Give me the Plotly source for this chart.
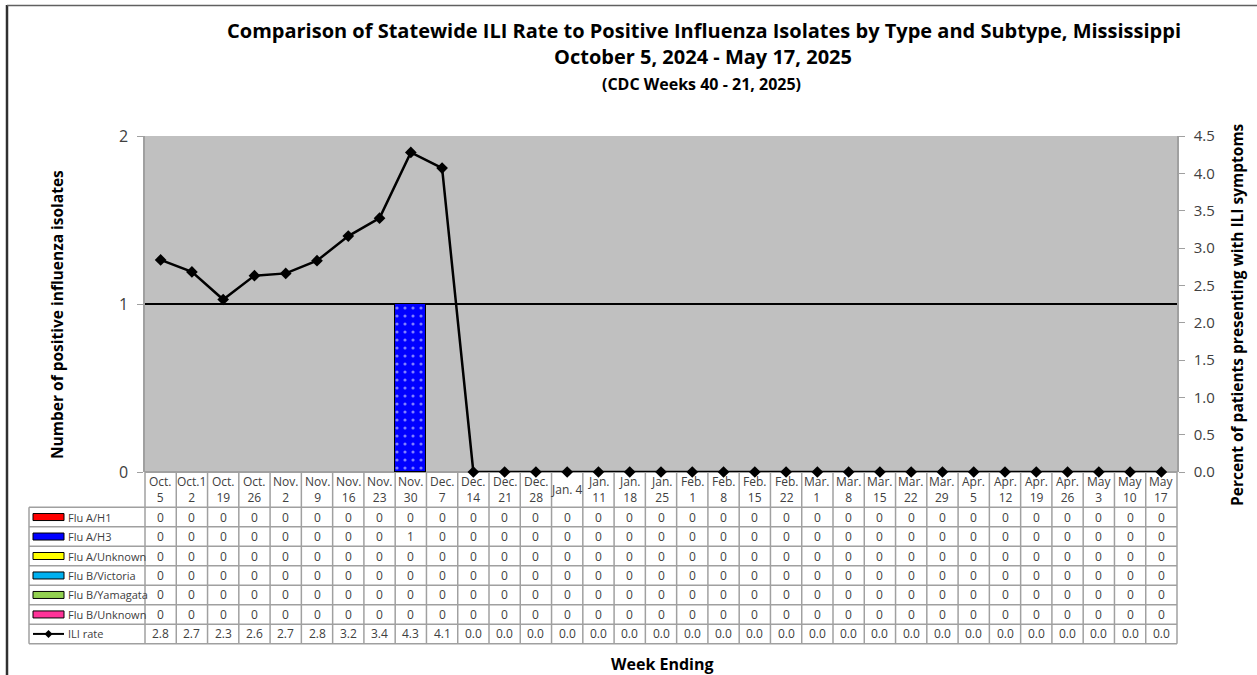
import plotly.graph_objects as go

# ---------------- data ----------------
weeks = ["Oct.<br>5", "Oct.1<br>2", "Oct.<br>19", "Oct.<br>26", "Nov.<br>2", "Nov.<br>9",
         "Nov.<br>16", "Nov.<br>23", "Nov.<br>30", "Dec.<br>7", "Dec.<br>14", "Dec.<br>21",
         "Dec.<br>28", "Jan. 4", "Jan.<br>11", "Jan.<br>18", "Jan.<br>25", "Feb.<br>1",
         "Feb.<br>8", "Feb.<br>15", "Feb.<br>22", "Mar.<br>1", "Mar.<br>8", "Mar.<br>15",
         "Mar.<br>22", "Mar.<br>29", "Apr.<br>5", "Apr.<br>12", "Apr.<br>19", "Apr.<br>26",
         "May<br>3", "May<br>10", "May<br>17"]

flu_a_h1 = [0, 0, 0, 0, 0, 0, 0, 0, 0, 0, 0, 0, 0, 0, 0, 0, 0, 0, 0, 0, 0, 0, 0, 0, 0, 0, 0, 0, 0, 0, 0, 0, 0]
flu_a_h3 = [0, 0, 0, 0, 0, 0, 0, 0, 1, 0, 0, 0, 0, 0, 0, 0, 0, 0, 0, 0, 0, 0, 0, 0, 0, 0, 0, 0, 0, 0, 0, 0, 0]
flu_a_unknown = [0, 0, 0, 0, 0, 0, 0, 0, 0, 0, 0, 0, 0, 0, 0, 0, 0, 0, 0, 0, 0, 0, 0, 0, 0, 0, 0, 0, 0, 0, 0, 0, 0]
flu_b_victoria = [0, 0, 0, 0, 0, 0, 0, 0, 0, 0, 0, 0, 0, 0, 0, 0, 0, 0, 0, 0, 0, 0, 0, 0, 0, 0, 0, 0, 0, 0, 0, 0, 0]
flu_b_yamagata = [0, 0, 0, 0, 0, 0, 0, 0, 0, 0, 0, 0, 0, 0, 0, 0, 0, 0, 0, 0, 0, 0, 0, 0, 0, 0, 0, 0, 0, 0, 0, 0, 0]
flu_b_unknown = [0, 0, 0, 0, 0, 0, 0, 0, 0, 0, 0, 0, 0, 0, 0, 0, 0, 0, 0, 0, 0, 0, 0, 0, 0, 0, 0, 0, 0, 0, 0, 0, 0]
ili_rate = [2.84, 2.68, 2.31, 2.63, 2.66, 2.83, 3.16, 3.40, 4.28, 4.07, 0.0, 0.0, 0.0, 0.0, 0.0,
            0.0, 0.0, 0.0, 0.0, 0.0, 0.0, 0.0, 0.0, 0.0, 0.0, 0.0, 0.0, 0.0, 0.0, 0.0, 0.0, 0.0, 0.0]

series_names = ["Flu A/H1", "Flu A/H3", "Flu A/Unknown", "Flu B/Victoria", "Flu B/Yamagata", "Flu B/Unknown"]
series_values = [flu_a_h1, flu_a_h3, flu_a_unknown, flu_b_victoria, flu_b_yamagata, flu_b_unknown]
series_colors = ["#ff0000", "#0000ff", "#ffff00", "#00b0f0", "#92d050", "#ff3399"]

# ---------------- layout geometry (pixels) ----------------
W, H = 1257, 675
L, R, T, B = 145, 1177, 136, 472
FONT = "Open Sans"
TXT = "#404040"
GRID = "#a0a0a0"


def px(x):
    return (x - L) / (R - L)


def py(y):
    return (B - y) / (B - T)


n = len(weeks)
xs = list(range(n))

fig = go.Figure()

for name, vals, col in zip(series_names, series_values, series_colors):
    fig.add_trace(go.Bar(
        x=xs, y=vals, name=name, showlegend=False,
        marker=dict(color=col,
                    line=dict(color="black", width=[1 if v > 0 else 0 for v in vals]),
                    pattern=dict(shape=".", fillmode="overlay", fgcolor="white", size=8, solidity=0.12)),
        hoverinfo="skip",
    ))

fig.add_trace(go.Scatter(
    x=xs, y=ili_rate, name="ILI rate", yaxis="y2", mode="lines+markers", showlegend=False,
    line=dict(color="black", width=2.5),
    marker=dict(symbol="diamond", size=9, color="black"),
    cliponaxis=False,
))

shapes = []
annotations = []

# ---- data table below the plot ----
header_bottom = 507.3
row_h = 19.48
legend_left = 29
n_rows = len(series_names) + 1
table_bottom = header_bottom + n_rows * row_h
line_style = dict(color=GRID, width=1.5)

for k in range(n_rows + 1):
    yy = py(header_bottom + k * row_h)
    shapes.append(dict(type="line", xref="paper", yref="paper", x0=px(legend_left), x1=1,
                       y0=yy, y1=yy, line=line_style, layer="above"))
shapes.append(dict(type="line", xref="paper", yref="paper", x0=0, x1=1, y0=0, y1=0,
                   line=line_style, layer="below"))
for i in range(n + 1):
    xx = i / n
    shapes.append(dict(type="line", xref="paper", yref="paper", x0=xx, x1=xx,
                       y0=0, y1=py(table_bottom), line=line_style))
shapes.append(dict(type="line", xref="paper", yref="paper", x0=px(legend_left), x1=px(legend_left),
                   y0=py(header_bottom), y1=py(table_bottom), line=line_style))

for i, w in enumerate(weeks):
    annotations.append(dict(x=i, xref="x", y=py((B + header_bottom) / 2), yref="paper",
                            text=w, showarrow=False, font=dict(family=FONT, size=12, color=TXT),
                            xanchor="center", yanchor="middle"))

row_labels = series_names + ["ILI rate"]
row_values = series_values + [ili_rate]
for k, (lab, vals) in enumerate(zip(row_labels, row_values)):
    yc = header_bottom + (k + 0.5) * row_h
    for i, v in enumerate(vals):
        txt = f"{v:.1f}" if lab == "ILI rate" else f"{v:d}"
        annotations.append(dict(x=i, xref="x", y=py(yc), yref="paper", text=txt, showarrow=False,
                                font=dict(family=FONT, size=12, color=TXT),
                                xanchor="center", yanchor="middle"))
    annotations.append(dict(x=px(66), xref="paper", y=py(yc), yref="paper", text=lab,
                            showarrow=False, font=dict(family=FONT, size=11, color=TXT),
                            xanchor="left", yanchor="middle"))
    if lab == "ILI rate":
        shapes.append(dict(type="line", xref="paper", yref="paper", x0=px(33), x1=px(64),
                           y0=py(yc), y1=py(yc), line=dict(color="black", width=2)))
        cx, cy, d = 48.5, yc, 4
        path = (f"M{px(cx - d)},{py(cy)} L{px(cx)},{py(cy - d)} "
                f"L{px(cx + d)},{py(cy)} L{px(cx)},{py(cy + d)} Z")
        shapes.append(dict(type="path", xref="paper", yref="paper", path=path,
                           fillcolor="black", line=dict(color="black", width=0)))
    else:
        col = series_colors[k]
        shapes.append(dict(type="rect", xref="paper", yref="paper", x0=px(33), x1=px(64),
                           y0=py(yc + 3.5), y1=py(yc - 3.5), fillcolor=col,
                           line=dict(color="black", width=1)))

# ---- frame ----
shapes.append(dict(type="line", xref="paper", yref="paper", x0=px(7), x1=px(7), y0=py(5), y1=py(H + 5),
                   line=dict(color="#303030", width=2.5)))
shapes.append(dict(type="line", xref="paper", yref="paper", x0=px(7), x1=px(W + 5), y0=py(5.5), y1=py(5.5),
                   line=dict(color="#606060", width=1.5)))

# ---- titles ----
annotations += [
    dict(x=px(704), y=py(30), xref="paper", yref="paper", showarrow=False,
         text="<b>Comparison of Statewide ILI Rate to Positive Influenza Isolates by Type and Subtype, Mississippi</b>",
         font=dict(family=FONT, size=20, color="black"), xanchor="center", yanchor="middle"),
    dict(x=px(703), y=py(57), xref="paper", yref="paper", showarrow=False,
         text="<b>October 5, 2024 - May 17, 2025</b>",
         font=dict(family=FONT, size=20, color="black"), xanchor="center", yanchor="middle"),
    dict(x=px(701), y=py(84), xref="paper", yref="paper", showarrow=False,
         text="<b>(CDC Weeks 40 - 21, 2025)</b>",
         font=dict(family=FONT, size=16, color="black"), xanchor="center", yanchor="middle"),
    dict(x=px(662), y=py(664), xref="paper", yref="paper", showarrow=False,
         text="<b>Week Ending</b>", font=dict(family=FONT, size=16, color="black"),
         xanchor="center", yanchor="middle"),
    dict(x=px(57), y=py(315), xref="paper", yref="paper", showarrow=False, textangle=-90,
         text="<b>Number of positive influenza isolates</b>", font=dict(family=FONT, size=15.5, color="black"),
         xanchor="center", yanchor="middle"),
    dict(x=px(1237), y=py(315), xref="paper", yref="paper", showarrow=False, textangle=-90,
         text="<b>Percent of patients presenting with ILI symptoms</b>",
         font=dict(family=FONT, size=15.5, color="black"), xanchor="center", yanchor="middle"),
]

fig.update_layout(
    width=W, height=H,
    margin=dict(l=L, r=W - R, t=T, b=H - B, autoexpand=False),
    paper_bgcolor="white", plot_bgcolor="#c0c0c0",
    barmode="stack", bargap=0,
    showlegend=False,
    font=dict(family=FONT, color=TXT),
    xaxis=dict(range=[-0.5, n - 0.5], showticklabels=False, ticks="", showgrid=False,
               zeroline=False, showline=False, fixedrange=True),
    yaxis=dict(range=[0, 2], dtick=1, tick0=0, showgrid=True, gridcolor="black", gridwidth=1.5,
               zeroline=True, zerolinecolor=GRID, zerolinewidth=1.5,
               showline=True, linecolor=GRID, linewidth=1.5,
               ticks="outside", ticklen=6, tickcolor=GRID, tickwidth=1,
               tickfont=dict(family=FONT, size=16, color=TXT), ticklabelstandoff=6),
    yaxis2=dict(range=[0, 4.5], dtick=0.5, tick0=0, tickformat=".1f", overlaying="y", side="right",
                showgrid=False, zeroline=False, showline=True, linecolor=GRID, linewidth=1.5,
                ticks="outside", ticklen=6, tickcolor=GRID, tickwidth=1,
                tickfont=dict(family=FONT, size=15, color=TXT), ticklabelstandoff=6),
    shapes=shapes,
    annotations=annotations,
)

fig.write_html("out.html", config={"displayModeBar": False},
               post_script="document.body.style.margin='0';document.body.style.overflow='hidden';")
